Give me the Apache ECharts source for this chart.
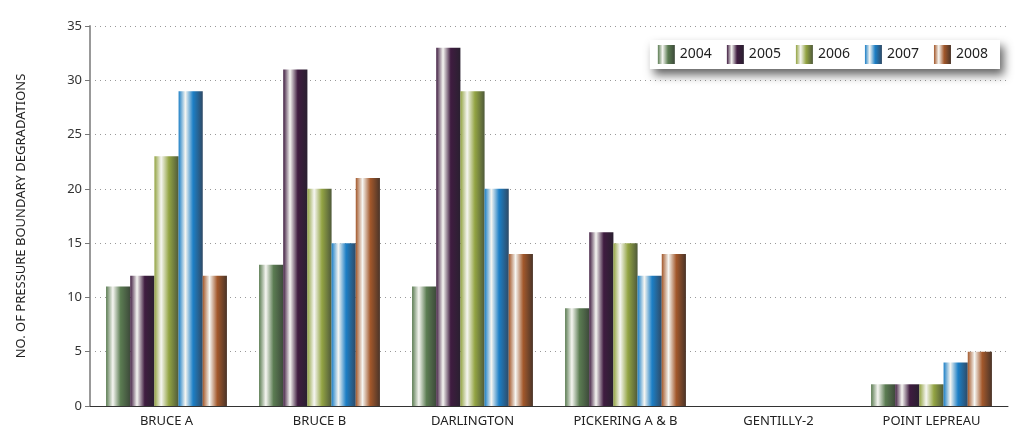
<!DOCTYPE html>
<html><head><meta charset="utf-8">
<script src="https://cdn.jsdelivr.net/npm/echarts@6/dist/echarts.min.js"></script>
<style>html,body{margin:0;padding:0;background:#fff}#c{width:1018px;height:434px}</style>
</head><body><div id="c"></div>
<script>
const categories = ['BRUCE A','BRUCE B','DARLINGTON','PICKERING A & B','GENTILLY-2','POINT LEPREAU'];
const years = ['2004','2005','2006','2007','2008'];
const s2004 = [11,13,11,9,0,2];
const s2005 = [12,31,33,16,0,2];
const s2006 = [23,20,29,15,0,2];
const s2007 = [29,15,20,12,0,4];
const s2008 = [12,21,14,14,0,5];
const yTicks = [0,5,10,15,20,25,30,35];

const seriesData = [s2004,s2005,s2006,s2007,s2008];
const baseColors = ['#5b7c52','#3f1c40','#93a443','#1c7fc6','#a3582b'];
const darkColors = ['#3d4a3a','#2a2030','#4f5a3a','#2f4a66','#4a3428'];

function grad(c, d){
  return new echarts.graphic.LinearGradient(0,0,1,0,[
    {offset:0,color:c},{offset:0.28,color:'#f6f6f2'},{offset:0.6,color:c},{offset:1,color:d}
  ]);
}
const chart = echarts.init(document.getElementById('c'));
const font = 'Noto Sans';
chart.setOption({
  animation:false,
  textStyle:{fontFamily:font},
  legend:{
    data:years, right:18, top:40, icon:'rect', itemWidth:17, itemHeight:19, itemGap:15,
    padding:[5,12,5,8],
    backgroundColor:'#fff', shadowColor:'rgba(0,0,0,0.6)', shadowBlur:10, shadowOffsetX:4, shadowOffsetY:6,
    textStyle:{fontSize:14,color:'#222',fontFamily:font}
  },
  grid:{left:90,right:10,top:26,bottom:28},
  xAxis:{
    type:'category', data:categories,
    axisLine:{lineStyle:{color:'#333',width:1}},
    axisTick:{show:false},
    axisLabel:{fontSize:13,color:'#222',margin:9,fontFamily:font}
  },
  yAxis:{
    type:'value', min:0, max:35, interval:5,
    name:'NO. OF PRESSURE BOUNDARY DEGRADATIONS', nameLocation:'middle', nameGap:62, nameRotate:90,
    nameTextStyle:{fontSize:13,color:'#222',fontFamily:font},
    axisLine:{show:true,lineStyle:{color:'#999',width:2}},
    axisTick:{show:true,length:5,lineStyle:{color:'#777'}},
    axisLabel:{fontSize:13,color:'#333',margin:8,fontFamily:font,
      formatter:v=>yTicks.includes(v)?String(v):''},
    splitLine:{lineStyle:{color:'#999',type:[1,4],width:1}}
  },
  series: years.map((y,i)=>({
    name:y, type:'bar', data:seriesData[i], barGap:'0%', barCategoryGap:'21%',
    itemStyle:{color:grad(baseColors[i],darkColors[i])}
  }))
});
</script></body></html>
